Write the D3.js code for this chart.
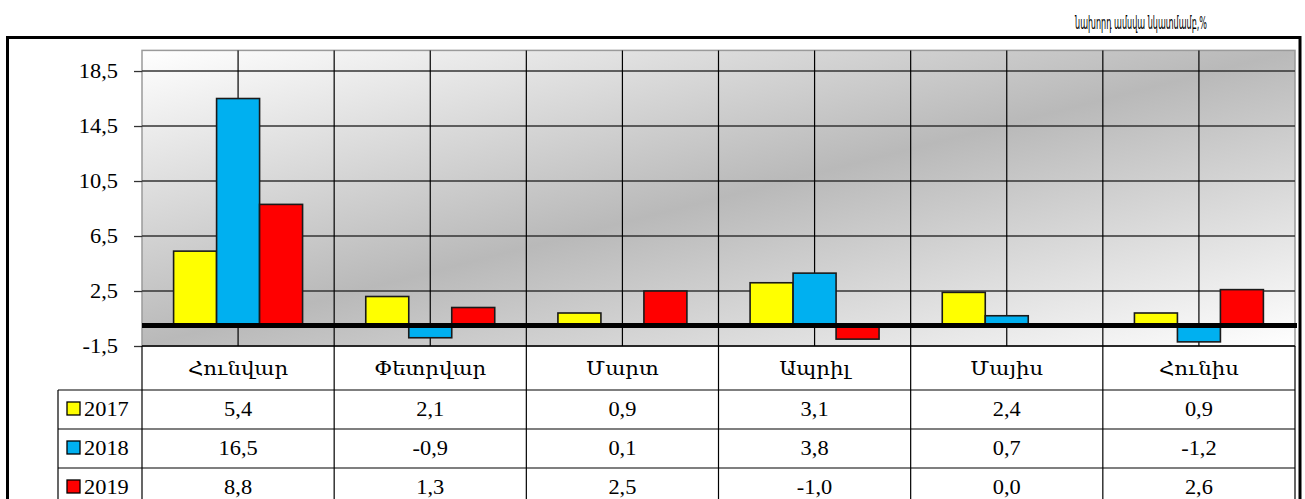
<!DOCTYPE html>
<html><head><meta charset="utf-8">
<script src="https://cdn.jsdelivr.net/npm/d3@7"></script>
<style>body{margin:0;background:#fff;} svg{display:block;}</style>
</head><body>
<script>
const months = ["Հունվար","Փետրվար","Մարտ","Ապրիլ","Մայիս","Հունիս"];
const seriesNames = ["2017","2018","2019"];
const v2017 = [5.4, 2.1, 0.9, 3.1, 2.4, 0.9];
const v2018 = [16.5, -0.9, 0.1, 3.8, 0.7, -1.2];
const v2019 = [8.8, 1.3, 2.5, -1.0, 0.0, 2.6];
const colors = ["#ffff00","#00b0f0","#ff0000"];
const yTicks = [-1.5, 2.5, 6.5, 10.5, 14.5, 18.5];
const titleText = "նախորդ ամսվա  նկատմամբ,%";

const values = [v2017, v2018, v2019];
const W = 1305, H = 499;
const font = "'Liberation Serif','DejaVu Serif','Times New Roman',serif";
const svg = d3.select("body").append("svg").attr("width", W).attr("height", H);
const fmt = d => d3.format(".1f")(d).replace(".", ",").replace("−", "-");

const px0 = 142, px1 = 1295, py0 = 50.4, py1 = 346;
const x = d3.scaleBand().domain(months).range([px0, px1]).paddingInner(0).paddingOuter(0);
const xs = d3.scaleBand().domain(seriesNames).range([0, x.bandwidth()]).paddingInner(0).paddingOuter(0.735);
const y = d3.scaleLinear().domain([-1.5, 20]).range([py1, py0]);

const defs = svg.append("defs");
const g = defs.append("linearGradient").attr("id","bg").attr("x1",0).attr("y1",0).attr("x2",1).attr("y2",1);
g.append("stop").attr("offset",0).attr("stop-color","#ffffff");
g.append("stop").attr("offset",0.5).attr("stop-color","#b9b9b9");
g.append("stop").attr("offset",1).attr("stop-color","#ffffff");

// title: right end fixed near x=1207, horizontally condensed to a reasonable width
const title = svg.append("text").attr("font-family", "'DejaVu Sans Condensed','DejaVu Sans',sans-serif")
  .attr("font-size", 17).attr("fill","#000").attr("text-anchor","end").text(titleText);
const tl = title.node().getComputedTextLength();
const tScale = Math.min(1, 132 / tl);
title.attr("transform", `translate(1207,29) scale(${tScale},1)`);

// outer frame
svg.append("rect").attr("x",7.5).attr("y",37.5).attr("width",1292.5).attr("height",480)
  .attr("fill","#fff").attr("stroke","#000").attr("stroke-width",3);

// plot background
svg.append("rect").attr("x",px0).attr("y",py0).attr("width",px1-px0).attr("height",py1-py0)
  .attr("fill","url(#bg)").attr("stroke","#9a9a9a").attr("stroke-width",1.5);

// y axis
const sx = 1.12;
const yAxis = d3.axisLeft(y).tickValues(yTicks).tickSize(8).tickFormat(fmt);
const ya = svg.append("g").attr("transform", `translate(${px0},0)`).call(yAxis);
ya.select(".domain").remove();
ya.selectAll(".tick line").attr("stroke","#333").attr("stroke-width",1.3);
ya.selectAll(".tick text").attr("font-family", font).attr("font-size", 20).attr("fill","#000")
  .attr("x", -24 / sx).attr("dy","0.34em").attr("text-anchor","end")
  .attr("transform", `scale(${sx},1)`);

// horizontal gridlines
svg.append("g").selectAll("line").data(yTicks).join("line")
  .attr("x1", px0).attr("x2", px1).attr("y1", d => y(d)).attr("y2", d => y(d))
  .attr("stroke","#333").attr("stroke-width",1.3);

// vertical gridlines at boundaries and centers
const vlines = [];
months.forEach(m => { vlines.push(x(m)); vlines.push(x(m) + x.bandwidth()/2); });
svg.append("g").selectAll("line").data(vlines.slice(1)).join("line")
  .attr("x1", d => d).attr("x2", d => d).attr("y1", py0).attr("y2", py1)
  .attr("stroke","#000").attr("stroke-width",1.2);

// bars
const bars = [];
months.forEach((m, i) => seriesNames.forEach((s, j) => bars.push({m, s, v: values[j][i], c: colors[j]})));
svg.append("g").selectAll("rect").data(bars).join("rect")
  .attr("x", d => x(d.m) + xs(d.s)).attr("width", xs.bandwidth())
  .attr("y", d => y(Math.max(0, d.v))).attr("height", d => Math.abs(y(d.v) - y(0)))
  .attr("fill", d => d.c).attr("stroke", "#1a1a1a").attr("stroke-width", 1.6);

// zero line
svg.append("line").attr("x1", px0).attr("x2", px1+2).attr("y1", y(0)).attr("y2", y(0))
  .attr("stroke","#000").attr("stroke-width",5);

// data table
const rowTop = [346, 390, 429, 468, 507];
const tbl = svg.append("g").attr("stroke","#000").attr("stroke-width",1.2);
tbl.append("line").attr("x1", px0).attr("x2", px1).attr("y1", rowTop[0]).attr("y2", rowTop[0]);
rowTop.slice(1).forEach(r => tbl.append("line").attr("x1", 58).attr("x2", px1).attr("y1", r).attr("y2", r));
months.forEach(m => tbl.append("line").attr("x1", x(m)).attr("x2", x(m)).attr("y1", rowTop[0]).attr("y2", 510));
tbl.append("line").attr("x1", px1).attr("x2", px1).attr("y1", rowTop[0]).attr("y2", 510);
tbl.append("line").attr("x1", 58).attr("x2", 58).attr("y1", rowTop[1]).attr("y2", 510);

function stext(xc, yb, t, anchor, size) {
  svg.append("text").attr("transform", `translate(${xc},${yb}) scale(${sx},1)`)
    .attr("text-anchor", anchor || "middle").attr("font-family", font).attr("font-size", size || 20)
    .attr("fill","#000").text(t);
}
months.forEach(m => stext(x(m) + x.bandwidth()/2, 375, m, "middle", 19));
seriesNames.forEach((s, j) => {
  const yb = rowTop[j+1] + 26;
  svg.append("rect").attr("x", 67).attr("y", rowTop[j+1] + 12).attr("width", 13).attr("height", 13)
    .attr("fill", colors[j]).attr("stroke","#000").attr("stroke-width",1.3);
  stext(84, yb, s, "start");
  months.forEach((m, i) => stext(x(m) + x.bandwidth()/2, yb, fmt(values[j][i])));
});
</script>
</body></html>
